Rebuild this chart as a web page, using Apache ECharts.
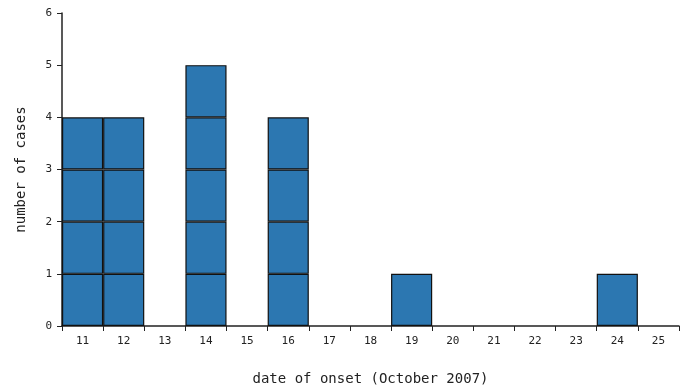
<!DOCTYPE html>
<html>
<head>
<meta charset="utf-8">
<script src="https://cdn.jsdelivr.net/npm/echarts@6/dist/echarts.min.js"></script>
<style>
  html, body { margin: 0; padding: 0; background: #fff; }
  #main { width: 688px; height: 388px; }
</style>
</head>
<body>
<div id="main"></div>
<script>
var days = ['11', '12', '13', '14', '15', '16', '17', '18', '19', '20', '21', '22', '23', '24', '25'];
var cases = [4, 4, 0, 5, 0, 4, 0, 0, 1, 0, 0, 0, 0, 1, 0];
var yTicks = [0, 1, 2, 3, 4, 5, 6];

var chart = echarts.init(document.getElementById('main'));
var font = 'DejaVu Sans Mono';

// one box per case: stack series k holds the k-th case of each day
var maxCases = Math.max.apply(null, cases);
var series = [];
for (var k = 0; k < maxCases; k++) {
  series.push({
    type: 'bar',
    stack: 'cases',
    barCategoryGap: 0,
    itemStyle: { color: '#2c77b1', borderColor: '#111', borderWidth: 1.2 },
    data: cases.map(function (c) { return c > k ? 1 : '-'; })
  });
}

var option = {
  animation: false,
  grid: { left: 62, right: 9, top: 13, bottom: 62, outerBoundsMode: 'none' },
  xAxis: {
    type: 'category',
    data: days,
    name: 'date of onset (October 2007)',
    nameLocation: 'middle',
    nameGap: 46,
    nameTextStyle: { fontFamily: font, fontSize: 14, color: '#222' },
    axisLine: { lineStyle: { color: '#222', width: 1.5 } },
    axisTick: { show: true, length: 5, lineStyle: { color: '#222' } },
    axisLabel: { fontFamily: font, fontSize: 11, color: '#222', margin: 10 }
  },
  yAxis: {
    type: 'value',
    min: yTicks[0],
    max: yTicks[yTicks.length - 1],
    interval: 1,
    name: 'number of cases',
    nameLocation: 'middle',
    nameGap: 34,
    nameTextStyle: { fontFamily: font, fontSize: 14, color: '#222' },
    splitLine: { show: false },
    axisLine: { show: true, lineStyle: { color: '#222', width: 1.5 } },
    axisTick: { show: true, length: 5, lineStyle: { color: '#222' } },
    axisLabel: { fontFamily: font, fontSize: 11, color: '#222', margin: 10 }
  },
  series: series
};
chart.setOption(option);
</script>
</body>
</html>
